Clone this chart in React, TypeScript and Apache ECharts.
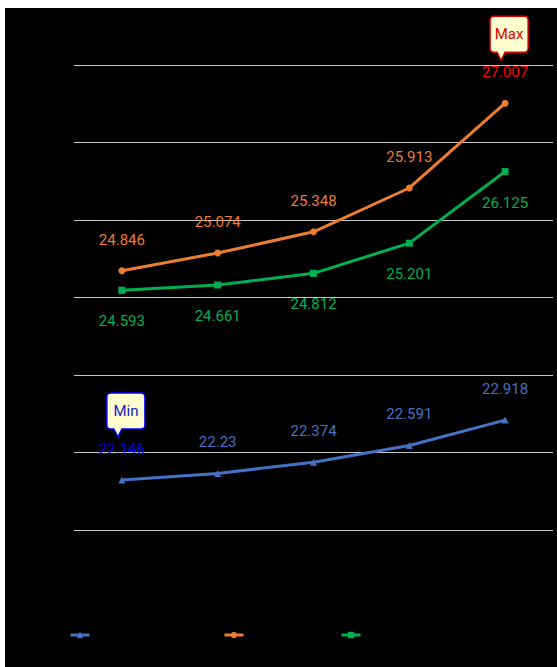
import React, { useEffect, useRef } from "react";
import * as echarts from "echarts";

const categories = ["2019", "2020", "2021", "2022", "2023"];
const seriesNames = ["Minimum", "Maximum", "Average"];
const lowValues = [22.146, 22.23, 22.374, 22.591, 22.918];
const highValues = [24.846, 25.074, 25.348, 25.913, 27.007];
const midValues = [24.593, 24.661, 24.812, 25.201, 26.125];

const bubble =
  "path://M4,0 L34,0 Q38,0 38,4 L38,32 Q38,36 34,36 L15,36 L11,44 L7,36 L4,36 Q0,36 0,32 L0,4 Q0,0 4,0 Z";

const labelFont = "Roboto, 'Liberation Sans', sans-serif";

export default function App() {
  const ref = useRef<HTMLDivElement>(null);
  useEffect(() => {
    if (!ref.current) return;
    const chart = echarts.init(ref.current, null, { renderer: "svg" });
    const maxIdx = highValues.indexOf(Math.max(...highValues));
    const minIdx = lowValues.indexOf(Math.min(...lowValues));
    const mkPoint = (name: string, idx: number, value: number, color: string, textColor: string) => ({
      symbol: bubble,
      symbolSize: [38, 44],
      symbolOffset: [4, -65],
      silent: true,
      data: [
        {
          name,
          coord: [categories[idx], value],
          value: name,
          itemStyle: { color: "#ffffd0", borderColor: color, borderWidth: 1.5 },
          label: {
            show: true,
            formatter: name,
            color: textColor,
            fontSize: 15,
            fontFamily: labelFont,
            offset: [0, -4],
          },
        },
      ],
    });
    const baseLabel = (color: string, position: string) => ({
      show: true,
      position,
      distance: 20,
      color,
      fontSize: 15,
      fontFamily: labelFont,
    });
    const legendBase = {
      top: 615,
      itemWidth: 19,
      itemHeight: 8,
      lineStyle: { width: 3 },
      textStyle: { color: "#000", fontSize: 14 },
    };
    chart.setOption({
      animation: false,
      backgroundColor: "#000",
      grid: { left: 69, right: 4, top: 57, bottom: 137 },
      legend: [
        { ...legendBase, left: 59, data: [seriesNames[0]] },
        { ...legendBase, left: 213, data: [seriesNames[1]] },
        { ...legendBase, left: 330, data: [seriesNames[2]] },
      ],
      xAxis: {
        type: "category",
        data: categories,
        boundaryGap: true,
        axisLine: { show: false },
        axisTick: { show: false },
        axisLabel: { color: "#000" },
      },
      yAxis: {
        type: "value",
        min: 21.5,
        max: 27.5,
        interval: 1,
        axisLabel: { color: "#000" },
        splitLine: { lineStyle: { color: "#c8c8c8", width: 1 } },
      },
      series: [
        {
          name: seriesNames[0],
          type: "line",
          data: lowValues.map((v, i) =>
            i === minIdx ? { value: v, label: { color: "#0000ff" } } : v
          ),
          symbol: "triangle",
          symbolSize: 7,
          color: "#4472c4",
          lineStyle: { width: 3 },
          label: baseLabel("#4472c4", "top"),
          markPoint: mkPoint("Min", minIdx, lowValues[minIdx], "#0000ff", "#2020d0"),
        },
        {
          name: seriesNames[1],
          type: "line",
          data: highValues.map((v, i) =>
            i === maxIdx ? { value: v, label: { color: "#ff0000" } } : v
          ),
          symbol: "circle",
          symbolSize: 7,
          color: "#ed7d31",
          lineStyle: { width: 3 },
          label: baseLabel("#ed7d31", "top"),
          markPoint: mkPoint("Max", maxIdx, highValues[maxIdx], "#e00000", "#e00000"),
        },
        {
          name: seriesNames[2],
          type: "line",
          data: midValues,
          symbol: "rect",
          symbolSize: 7,
          color: "#00b050",
          lineStyle: { width: 3 },
          label: baseLabel("#00b050", "bottom"),
        },
      ],
    });
    return () => chart.dispose();
  }, []);
  return (
    <div
      ref={ref}
      style={{ position: "fixed", left: 5, top: 8, width: 552, height: 659 }}
    />
  );
}
